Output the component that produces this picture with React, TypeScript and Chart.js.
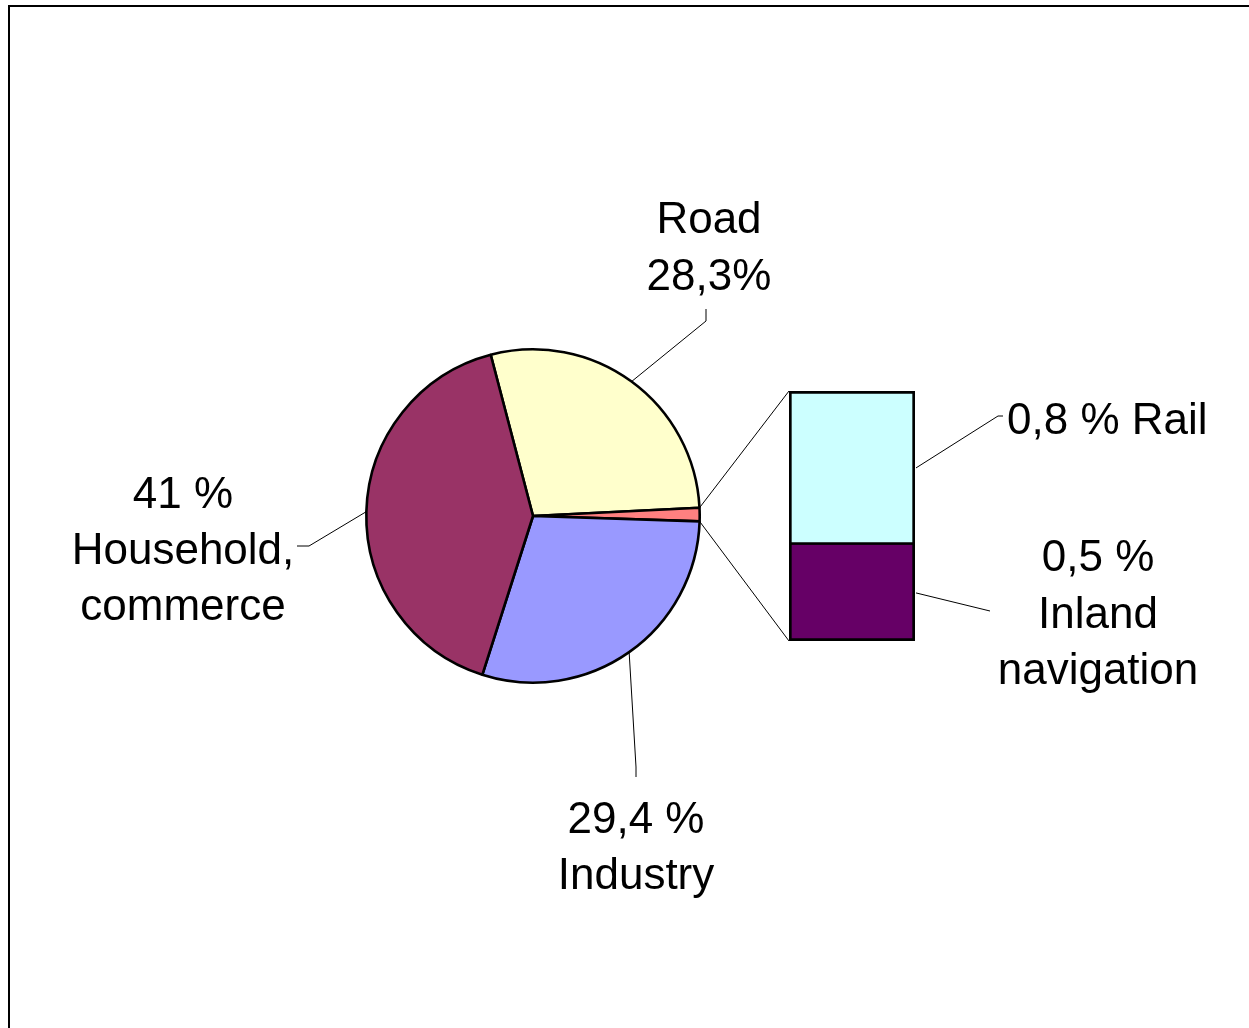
import React, { useEffect, useRef } from "react";
import { Chart, registerables } from "chart.js";

Chart.register(...registerables);

// ---- data ----
const pieLabels = ["Road", "Rail + Inland navigation", "Industry", "Household, commerce"];
const pieValues = [28.3, 1.3, 29.4, 41];
const pieColors = ["#FFFFCC", "#FF8080", "#9999FF", "#993366"];

const barLabels = ["Other transport"];
const railValues = [0.8];
const inlandValues = [0.5];
const railColor = "#CCFFFF";
const inlandColor = "#660066";

const roadText = ["Road", "28,3%"];
const householdText = ["41 %", "Household,", "commerce"];
const industryText = ["29,4 %", "Industry"];
const railText = ["0,8 % Rail"];
const inlandText = ["0,5 %", "Inland", "navigation"];

const W = 1249;
const H = 1028;
const FONT = '44px "Liberation Sans", Arial, sans-serif';

function drawLines(ctx: CanvasRenderingContext2D, lines: string[], x: number, y0: number, step: number, align: CanvasTextAlign) {
  ctx.save();
  ctx.font = FONT;
  ctx.fillStyle = "#000";
  ctx.textAlign = align;
  ctx.textBaseline = "middle";
  lines.forEach((t, i) => ctx.fillText(t, x, y0 + i * step));
  ctx.restore();
}

function poly(ctx: CanvasRenderingContext2D, pts: number[][]) {
  ctx.beginPath();
  ctx.moveTo(pts[0][0], pts[0][1]);
  for (let i = 1; i < pts.length; i++) ctx.lineTo(pts[i][0], pts[i][1]);
  ctx.stroke();
}

function arcPoint(arc: any, angle: number) {
  const r = arc.outerRadius;
  return [arc.x + r * Math.cos(angle), arc.y + r * Math.sin(angle)];
}

export default function App() {
  const pieRef = useRef<HTMLCanvasElement>(null);
  const barRef = useRef<HTMLCanvasElement>(null);

  useEffect(() => {
    if (!pieRef.current || !barRef.current) return;

    const pieDeco = {
      id: "pieDeco",
      beforeDraw(chart: any) {
        const ctx = chart.ctx;
        ctx.save();
        ctx.fillStyle = "#fff";
        ctx.fillRect(0, 0, W, H);
        ctx.strokeStyle = "#000";
        ctx.lineWidth = 2;
        ctx.beginPath();
        ctx.moveTo(9, H + 10);
        ctx.lineTo(9, 6);
        ctx.lineTo(W + 10, 6);
        ctx.stroke();
        ctx.restore();
      },
      afterDraw(chart: any) {
        const ctx = chart.ctx;
        const arcs = chart.getDatasetMeta(0).data;
        const mid = (a: any) => (a.startAngle + a.endAngle) / 2;
        ctx.save();
        ctx.strokeStyle = "#000";
        ctx.lineWidth = 1;
        // Road
        poly(ctx, [arcPoint(arcs[0], mid(arcs[0])), [706, 321], [706, 309]]);
        // Industry
        poly(ctx, [arcPoint(arcs[2], mid(arcs[2])), [636, 767], [636, 777]]);
        // Household
        poly(ctx, [arcPoint(arcs[3], mid(arcs[3])), [309, 546], [297, 546]]);
        ctx.restore();
        drawLines(ctx, roadText, 709, 221, 57, "center");
        drawLines(ctx, householdText, 183, 496, 56, "center");
        drawLines(ctx, industryText, 636, 821, 56, "center");
      },
    };

    const pie = new Chart(pieRef.current, {
      type: "pie",
      data: {
        labels: pieLabels,
        datasets: [
          {
            data: pieValues,
            backgroundColor: pieColors,
            borderColor: "#000",
            borderWidth: 2.6,
          },
        ],
      },
      options: {
        responsive: false,
        animation: false,
        rotation: -14.7,
        layout: { padding: { left: 365, right: 548, top: 348, bottom: 344 } },
        plugins: { legend: { display: false }, tooltip: { enabled: false } },
      },
      plugins: [pieDeco],
    } as any);

    const barDeco = {
      id: "barDeco",
      afterDraw(chart: any) {
        const ctx = chart.ctx;
        const inl = chart.getDatasetMeta(0).data[0];
        const rail = chart.getDatasetMeta(1).data[0];
        const left = rail.x - rail.width / 2;
        const right = rail.x + rail.width / 2;
        const top = rail.y;
        const divider = inl.y;
        const bottom = inl.base;
        const arcs = pie.getDatasetMeta(0).data as any[];
        const red = arcs[1];
        ctx.save();
        ctx.strokeStyle = "#000";
        ctx.lineWidth = 1;
        poly(ctx, [arcPoint(red, red.startAngle), [left, top]]);
        poly(ctx, [arcPoint(red, red.endAngle), [left, bottom]]);
        poly(ctx, [[right + 1, (top + divider) / 2], [998, 416], [1003, 416]]);
        poly(ctx, [[right + 1, (divider + bottom) / 2], [990, 611]]);
        ctx.restore();
        drawLines(ctx, railText, 1007, 422, 56, "left");
        drawLines(ctx, inlandText, 1098, 559, 56.5, "center");
      },
    };

    const bar = new Chart(barRef.current, {
      type: "bar",
      data: {
        labels: barLabels,
        datasets: [
          {
            label: "Inland navigation",
            data: inlandValues,
            backgroundColor: inlandColor,
            borderColor: "#000",
            borderWidth: 3,
            borderSkipped: "top",
            barPercentage: 1,
            categoryPercentage: 1,
          },
          {
            label: "Rail",
            data: railValues,
            backgroundColor: railColor,
            borderColor: "#000",
            borderWidth: 3,
            borderSkipped: false,
            barPercentage: 1,
            categoryPercentage: 1,
          },
        ],
      },
      options: {
        responsive: false,
        animation: false,
        layout: { padding: { left: 789, right: 334, top: 391, bottom: 387 } },
        scales: {
          x: { stacked: true, display: false },
          y: { stacked: true, display: false, min: 0, max: 1.3 },
        },
        plugins: { legend: { display: false }, tooltip: { enabled: false } },
      },
      plugins: [barDeco],
    } as any);

    return () => {
      bar.destroy();
      pie.destroy();
    };
  }, []);

  return (
    <div style={{ position: "fixed", left: 0, top: 0, width: W, height: H, background: "#fff" }}>
      <canvas ref={pieRef} width={W} height={H} style={{ position: "absolute", left: 0, top: 0, width: W, height: H }} />
      <canvas ref={barRef} width={W} height={H} style={{ position: "absolute", left: 0, top: 0, width: W, height: H }} />
    </div>
  );
}
